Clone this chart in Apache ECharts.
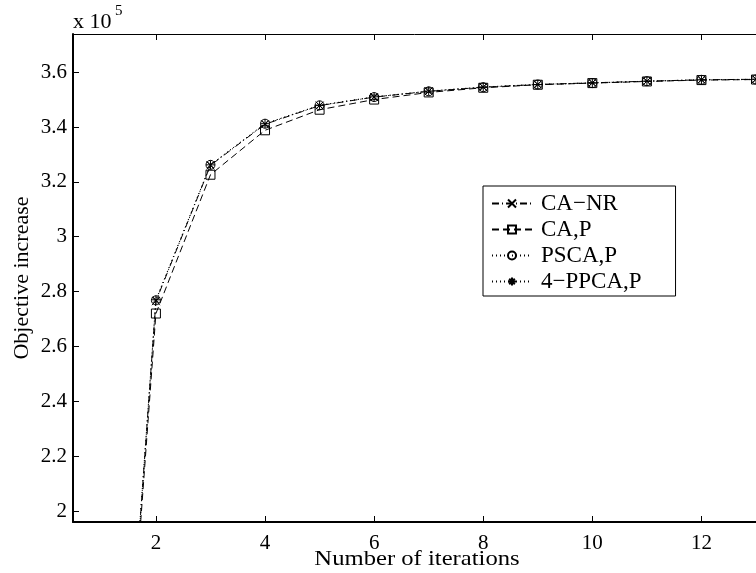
<!DOCTYPE html>
<html><head><meta charset="utf-8">
<script src="https://cdn.jsdelivr.net/npm/echarts@6/dist/echarts.min.js"></script>
<style>html,body{margin:0;padding:0;background:#fff}#c{width:756px;height:573px}</style>
</head><body><div id="c"></div>
<script>
// Objective increase (x 10^5) per iteration
const iterations = [1, 2, 3, 4, 5, 6, 7, 8, 9, 10, 11, 12, 13];
const caNR  = [0, 2.765, 3.260, 3.410, 3.478, 3.509, 3.530, 3.545, 3.555, 3.561, 3.567, 3.572, 3.574];
const caP   = [0, 2.720, 3.226, 3.388, 3.463, 3.500, 3.526, 3.543, 3.554, 3.560, 3.566, 3.571, 3.573];
const pscaP = [0, 2.768, 3.262, 3.412, 3.479, 3.509, 3.530, 3.545, 3.555, 3.560, 3.567, 3.572, 3.573];
const ppcaP = [0, 2.770, 3.262, 3.412, 3.479, 3.510, 3.531, 3.546, 3.555, 3.561, 3.567, 3.572, 3.574];
const seriesNames = ['CA\u2212NR', 'CA,P', 'PSCA,P', '4\u2212PPCA,P'];
const xTicks = [2, 4, 6, 8, 10, 12];
const yTicks = [2, 2.2, 2.4, 2.6, 2.8, 3, 3.2, 3.4, 3.6];

const FONT = '"Liberation Serif", "DejaVu Serif", serif';
const FS = 21;
const pairs = arr => iterations.map((x, i) => [x, arr[i]]);

const chart = echarts.init(document.getElementById('c'), null, {renderer: 'canvas'});

const xCommon = {type: 'value', min: 0.48, max: 13, splitLine: {show: false}};
const yCommon = {type: 'value', min: 1.96, max: 3.739, splitLine: {show: false}};

const baseSeries = (name, data, symbol, dash, size) => ({
  name: name, type: 'line', data: pairs(data),
  symbol: symbol, symbolSize: size, showSymbol: true,
  lineStyle: {color: '#000', width: 1, type: dash},
  itemStyle: {color: 'transparent', borderColor: '#000', borderWidth: 1},
  emphasis: {disabled: true},
  clip: true,
  z: 3
});

chart.setOption({
  animation: false,
  backgroundColor: '#fff',
  grid: {left: 73, top: 34, right: 0, bottom: 51, containLabel: false},
  xAxis: [
    Object.assign({}, xCommon, {
      position: 'bottom',
      axisLine: {show: true, onZero: false, lineStyle: {color: '#000', width: 2}},
      axisTick: {show: true, inside: true, length: 6, customValues: xTicks, lineStyle: {color: '#000', width: 1}},
      axisLabel: {customValues: xTicks, color: '#000', fontFamily: FONT, fontSize: FS, margin: 11}
    }),
    Object.assign({}, xCommon, {
      position: 'top',
      axisLine: {show: true, onZero: false, lineStyle: {color: '#000', width: 1}},
      axisTick: {show: true, inside: true, length: 6, customValues: xTicks, lineStyle: {color: '#000', width: 1}},
      axisLabel: {show: false}
    })
  ],
  yAxis: [
    Object.assign({}, yCommon, {
      position: 'left',
      axisLine: {show: true, onZero: false, lineStyle: {color: '#000', width: 2}},
      axisTick: {show: true, inside: true, length: 6, customValues: yTicks, lineStyle: {color: '#000', width: 1}},
      axisLabel: {customValues: yTicks, color: '#000', fontFamily: FONT, fontSize: FS, margin: 6}
    })
  ],
  legend: {
    data: seriesNames,
    orient: 'vertical',
    left: 483, top: 186,
    selectedMode: false,
    backgroundColor: '#fff',
    borderColor: '#000', borderWidth: 1, borderRadius: 0,
    padding: [6, 34, 3, 8],
    itemGap: 3,
    itemWidth: 40, itemHeight: 10,
    textStyle: {color: '#000', fontFamily: FONT, fontSize: 23, padding: [0, 0, 0, 4]}
  },
  graphic: [
    {type: 'text', left: 73, top: 11, style: {text: 'x 10', fontFamily: FONT, fontSize: 22, fill: '#000'}},
    {type: 'text', left: 115, top: 4, style: {text: '5', fontFamily: FONT, fontSize: 15, fill: '#000'}},
    {type: 'text', x: 417, y: 559, scaleX: 1.12, style: {text: 'Number of iterations', fontFamily: FONT, fontSize: 22, fill: '#000', align: 'center', verticalAlign: 'middle'}},
    {type: 'text', x: 22, y: 278, rotation: Math.PI / 2, style: {text: 'Objective increase', fontFamily: FONT, fontSize: 22, fill: '#000', align: 'center', verticalAlign: 'middle'}}
  ],
  series: [
    baseSeries(seriesNames[0], caNR, 'path://M0,0L10,10M10,0L0,10', [7, 3, 1, 3], 8),
    baseSeries(seriesNames[1], caP, 'rect', [7, 4], 9),
    baseSeries(seriesNames[2], pscaP, 'circle', [1, 3], 9),
    baseSeries(seriesNames[3], ppcaP, 'path://M5,0L5,10M0,5L10,5M1.5,1.5L8.5,8.5M8.5,1.5L1.5,8.5', [1, 3], 9)
  ]
});
</script></body></html>
